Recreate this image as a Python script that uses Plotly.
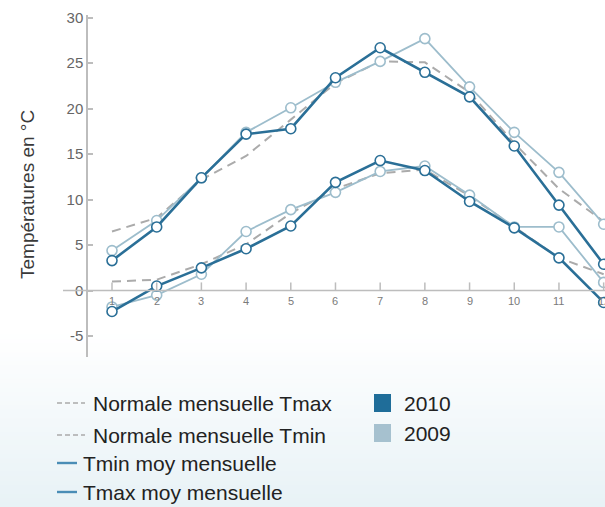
import plotly.graph_objects as go

# Monthly temperatures (°C)
months = list(range(1, 13))
tmax_2010 = [3.3, 7.0, 12.4, 17.2, 17.8, 23.4, 26.7, 24.0, 21.3, 15.9, 9.4, 2.9]
tmax_2009 = [4.4, 7.7, 12.4, 17.4, 20.1, 22.9, 25.2, 27.7, 22.4, 17.4, 13.0, 7.3]
tmin_2010 = [-2.3, 0.5, 2.5, 4.6, 7.1, 11.9, 14.3, 13.2, 9.8, 6.9, 3.6, -1.3]
tmin_2009 = [-1.8, -0.5, 1.8, 6.5, 8.9, 10.8, 13.1, 13.7, 10.5, 7.0, 7.0, 0.9]
norm_tmax = [6.5, 8.0, 12.2, 14.8, 18.8, 22.8, 25.2, 25.1, 21.8, 16.2, 11.2, 7.6]
norm_tmin = [1.0, 1.2, 2.9, 5.1, 8.5, 11.2, 12.9, 13.3, 10.4, 7.0, 3.6, 1.8]
y_ticks = [-5, 0, 5, 10, 15, 20, 25, 30]
y_tick_labels = ["-5", "0", "5", "10", "15", "20", "25", "30"]

DARK = "#2a6f97"
LIGHT = "#9dbdcc"
GREY = "#ababab"
AXIS = "#bdbdbd"
FONT = "Liberation Sans, Arial"

W, H = 605, 507
ML, MR, MT, MB = 88, 0, 15, 150
PW, PH = W - ML - MR, H - MT - MB


def px(xp):
    return (xp - ML) / PW


def py(yp):
    return (H - MB - yp) / PH


fig = go.Figure()

for vals in (norm_tmax, norm_tmin):
    fig.add_trace(go.Scatter(x=months, y=vals, mode="lines",
                             line=dict(color=GREY, width=2, dash="9px,6px"),
                             hoverinfo="skip"))

for vals, col, lw in ((tmax_2009, LIGHT, 1.8), (tmin_2009, LIGHT, 1.8),
                      (tmax_2010, DARK, 2.6), (tmin_2010, DARK, 2.6)):
    fig.add_trace(go.Scatter(
        x=months, y=vals, mode="lines+markers",
        line=dict(color=col, width=lw),
        marker=dict(symbol="circle", size=10, color="white",
                    line=dict(color=col, width=1.6)),
    ))

shapes = []

# soft bluish gradient at the bottom of the page
n_strips = 40
top, bottom = 330, H
c0 = (255, 255, 255)
c1 = (232, 242, 246)
for i in range(n_strips):
    t = i / (n_strips - 1)
    col = tuple(round(c0[k] + (c1[k] - c0[k]) * t) for k in range(3))
    y0p = top + (bottom - top) * i / n_strips
    y1p = top + (bottom - top) * (i + 1) / n_strips + 1
    shapes.append(dict(type="rect", xref="paper", yref="paper", layer="below",
                       x0=px(0), x1=px(W), y0=py(y1p), y1=py(y0p),
                       fillcolor="rgb(%d,%d,%d)" % col, line=dict(width=0)))

# zero line, extended to the left of the y axis
shapes.append(dict(type="line", xref="paper", yref="y", x0=px(63), x1=1,
                   y0=0, y1=0, line=dict(color=AXIS, width=1.5)))
# month ticks sitting on the zero line
for m in months:
    shapes.append(dict(type="line", xref="x", yref="y", x0=m, x1=m,
                       y0=0, y1=0.9, line=dict(color=AXIS, width=1.5)))

# legend samples
legend_rows = [
    ("Normale mensuelle Tmax", 403, "dash", GREY),
    ("Normale mensuelle Tmin", 435, "dash", GREY),
    ("Tmin moy mensuelle", 463, "solid", "#4a8db6"),
    ("Tmax moy mensuelle", 492, "solid", "#4a8db6"),
]
annotations = []
for label, yp, kind, col in legend_rows:
    if kind == "dash":
        shapes.append(dict(type="line", xref="paper", yref="paper",
                           x0=px(57), x1=px(85), y0=py(yp), y1=py(yp),
                           line=dict(color=col, width=1.3, dash="5px,3px")))
        tx = 91
    else:
        shapes.append(dict(type="line", xref="paper", yref="paper",
                           x0=px(57), x1=px(77), y0=py(yp), y1=py(yp),
                           line=dict(color=col, width=2.4)))
        tx = 81
    annotations.append(dict(text=label, xref="paper", yref="paper",
                            x=px(tx), y=py(yp), xanchor="left", yanchor="middle",
                            showarrow=False,
                            font=dict(size=21, color="#222222", family=FONT)))

for label, yp, col in (("2010", 403, "#1f6d99"), ("2009", 433, "#a6c1cf")):
    shapes.append(dict(type="rect", xref="paper", yref="paper",
                       x0=px(374), x1=px(391), y0=py(yp + 9), y1=py(yp - 9),
                       fillcolor=col, line=dict(width=0)))
    annotations.append(dict(text=label, xref="paper", yref="paper",
                            x=px(402), y=py(yp), xanchor="left", yanchor="middle",
                            showarrow=False,
                            font=dict(size=21, color="#222222", family=FONT)))

# month labels just under the zero line
for m in months:
    annotations.append(dict(text=str(m), x=m, y=0, xref="x", yref="y",
                            yanchor="top", yshift=-2, showarrow=False,
                            font=dict(size=11, color="#7a7a7a", family=FONT)))

# y axis title
annotations.append(dict(text="Températures en °C", xref="paper", yref="paper",
                        x=px(27), y=py(195), textangle=-90,
                        xanchor="center", yanchor="middle", showarrow=False,
                        font=dict(size=19, color="#3a3a3a", family=FONT)))

fig.update_layout(
    width=W, height=H,
    margin=dict(l=ML, r=MR, t=MT, b=MB, pad=0),
    paper_bgcolor="white",
    plot_bgcolor="rgba(0,0,0,0)",
    showlegend=False,
    shapes=shapes,
    annotations=annotations,
    font=dict(family=FONT),
    xaxis=dict(range=[0.463, 12.03], showgrid=False, zeroline=False,
               showline=False, showticklabels=False, ticks="",
               fixedrange=True),
    yaxis=dict(range=[-7.3, 30.3], tickvals=y_ticks, ticktext=y_tick_labels,
               showgrid=False, zeroline=False, showline=True, linecolor=AXIS,
               linewidth=1.5, ticks="inside", ticklen=5, tickcolor=AXIS,
               tickwidth=1.5, tickfont=dict(size=15, color="#666666"),
               fixedrange=True),
)

fig.write_html("out.html")
